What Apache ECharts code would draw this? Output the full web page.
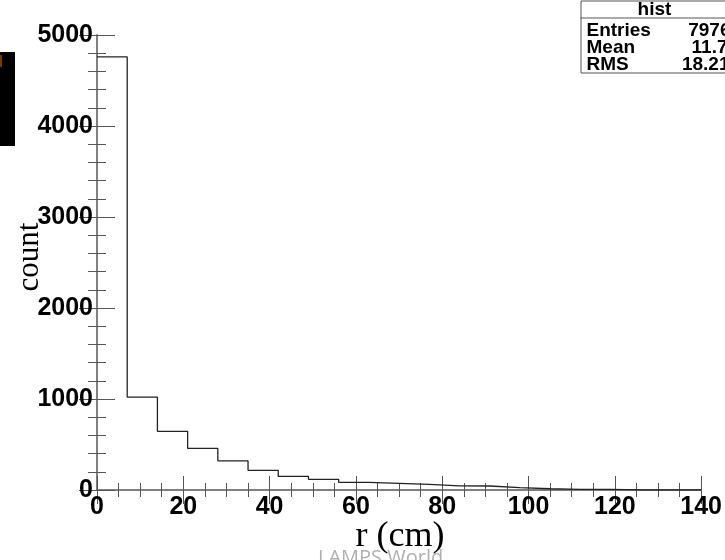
<!DOCTYPE html>
<html>
<head>
<meta charset="utf-8">
<script src="https://cdn.jsdelivr.net/npm/echarts@6/dist/echarts.min.js"></script>
<style>
html,body{margin:0;padding:0;background:#fff;}
#c{width:725px;height:560px;}
</style>
</head>
<body>
<div id="c"></div>
<script>
// Histogram bin edges (cm) and counts
const binEdges = [0,7,14,21,28,35,42,49,56,63,70,77,84,91,98,105,112,119,126,133,140];
const counts = [4760,1020,645,458,319,216,150,117,84,73,62,46,44,25,14,7,7,0,0,0];
const xTicks = [0,20,40,60,80,100,120,140];
const yTicks = [0,1000,2000,3000,4000,5000];
const statsTitle = 'hist';
const statsNames = ['Entries','Mean','RMS'];
const statsValues = ['7976','11.7','18.21'];

const stepData = binEdges.map((e,i) => [e, i < counts.length ? counts[i] : counts[counts.length-1]]);

const chart = echarts.init(document.getElementById('c'), null, {renderer:'canvas'});
const axisCol = '#777';
const labelFont = {fontFamily:'Liberation Sans', fontWeight:'bold', fontSize:25, color:'#000'};
function xAxisCfg(pos, show){
  return {
    type:'value', position:pos, min:xTicks[0], max:xTicks[xTicks.length-1], interval:20,
    axisLine:{show:true, lineStyle:{color:axisCol, width:1.5}},
    axisTick:{show:true, inside:true, length:14, lineStyle:{color:'#555', width:1}},
    minorTick:{show:true, splitNumber:4, length:7, lineStyle:{color:'#555', width:1}},
    splitLine:{show:false},
    axisLabel:Object.assign({show:show, margin:5, formatter:v => String(v)}, labelFont)
  };
}
function yAxisCfg(pos, show){
  return {
    type:'value', position:pos, min:yTicks[0], max:yTicks[yTicks.length-1], interval:1000,
    axisLine:{show:true, lineStyle:{color:axisCol, width:1.5}},
    axisTick:{show:true, inside:true, length:18, lineStyle:{color:'#555', width:1}},
    minorTick:{show:true, splitNumber:5, length:9, lineStyle:{color:'#555', width:1}},
    splitLine:{show:false},
    axisLabel:Object.assign({show:show, margin:4, padding:[6,0,0,0], formatter:v => String(v)}, labelFont)
  };
}

const sf = 'bold 19px "Liberation Sans"';
chart.setOption({
  animation:false,
  backgroundColor:'#fff',
  grid:{left:97, right:14, top:35, bottom:70},
  xAxis:[xAxisCfg('bottom', true), xAxisCfg('top', false)],
  yAxis:[yAxisCfg('left', true), yAxisCfg('right', false)],
  series:[{
    type:'line', step:'end', data:stepData, symbol:'none',
    lineStyle:{color:'#222', width:1.3}, z:3
  }],
  graphic:[
    {type:'rect', left:0, top:52, shape:{width:15, height:94}, style:{fill:'#000'}},
    {type:'rect', left:0, top:55, shape:{width:2, height:12}, style:{fill:'#7a3a00'}},
    {type:'text', x:400, y:537, style:{text:'r (cm)', font:'36px "Liberation Serif"', fill:'#000', align:'center', verticalAlign:'middle'}, z:5},
    {type:'text', x:318, y:558, style:{text:'LAMPS World', font:'20px "Open Sans"', fill:'#b0b0b0', verticalAlign:'middle'}, z:6},
    {type:'text', x:30, y:257, rotation:Math.PI/2, style:{text:'count', font:'31px "Liberation Serif"', fill:'#000', align:'center', verticalAlign:'middle'}, z:5},
    {type:'group', left:578, top:0, z:10, children:[
      {type:'rect', shape:{x:0.5, y:0.5, width:160, height:72}, style:{fill:'#fff', stroke:'#555', lineWidth:1}},
      {type:'line', shape:{x1:0, y1:17.5, x2:160, y2:17.5}, style:{stroke:'#555', lineWidth:1}},
      {type:'text', x:74, y:9, style:{text:statsTitle, font:sf, fill:'#000', align:'center', verticalAlign:'middle'}},
      {type:'text', x:6, y:30, style:{text:statsNames[0], font:sf, fill:'#000', verticalAlign:'middle'}},
      {type:'text', x:6, y:47, style:{text:statsNames[1], font:sf, fill:'#000', verticalAlign:'middle'}},
      {type:'text', x:6, y:64, style:{text:statsNames[2], font:sf, fill:'#000', verticalAlign:'middle'}},
      {type:'text', x:150, y:30, style:{text:statsValues[0], font:sf, fill:'#000', align:'right', verticalAlign:'middle'}},
      {type:'text', x:147, y:47, style:{text:statsValues[1], font:sf, fill:'#000', align:'right', verticalAlign:'middle'}},
      {type:'text', x:149, y:64, style:{text:statsValues[2], font:sf, fill:'#000', align:'right', verticalAlign:'middle'}}
    ]}
  ]
});
</script>
</body>
</html>
